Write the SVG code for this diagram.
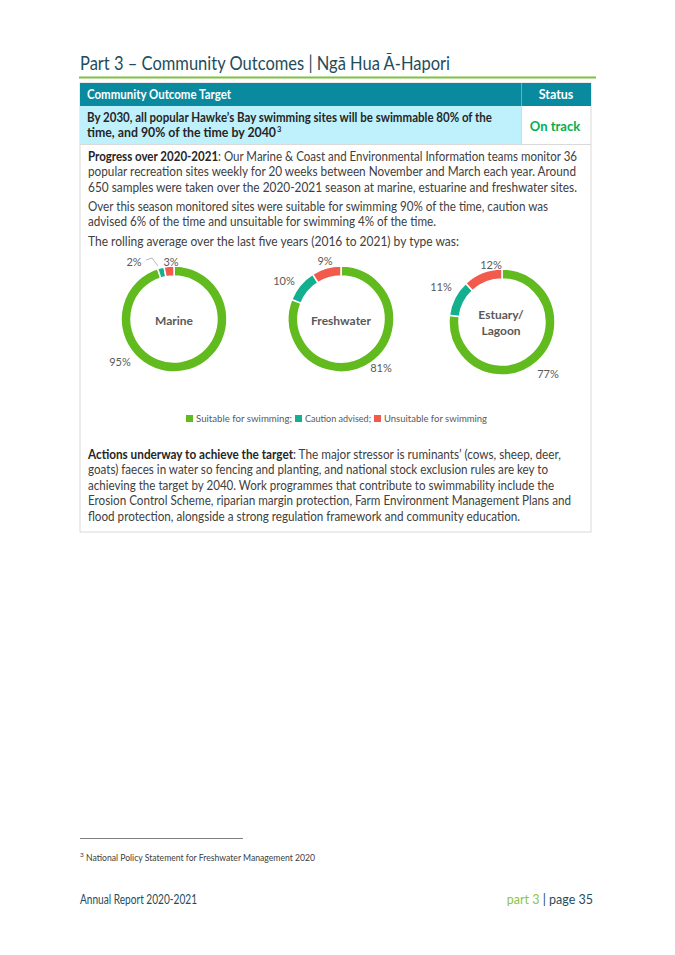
<svg xmlns="http://www.w3.org/2000/svg" width="675" height="955" viewBox="0 0 675 955">
<style>
  text { font-family: Lato, "Open Sans", "Liberation Sans", sans-serif; }
  .body { font-size: 13px; fill: #404040; }
  .b { font-weight: bold; fill: #262626; }
  .pct { font-size: 11px; fill: #595959; text-anchor: middle; }
  .ctr { font-size: 12px; font-weight: bold; fill: #595959; text-anchor: middle; }
  .leg { font-size: 10px; fill: #595959; }
  .g { fill: #62BB1E; stroke: #fff; stroke-width: 1.5; }
  .t { fill: #12B08E; stroke: #fff; stroke-width: 1.5; }
  .r { fill: #F25A4B; stroke: #fff; stroke-width: 1.5; }
</style>
<rect width="675" height="955" fill="#ffffff"/>

<g id="title">
  <text x="80" y="70" font-size="19" fill="#1E4D5B" textLength="370" lengthAdjust="spacingAndGlyphs">Part 3 – Community Outcomes | Ngā Hua Ā-Hapori</text>
  <line x1="79" y1="77.5" x2="596" y2="77.5" stroke="#7DC242" stroke-width="2"/>
</g>

<g id="table">
  <rect x="80" y="83" width="511" height="449" fill="#ffffff" stroke="#D9D9D9" stroke-width="1"/>
  <rect x="80" y="83" width="511" height="23" fill="#0A8A9F"/>
  <line x1="521.5" y1="83" x2="521.5" y2="106" stroke="#5FB5C4" stroke-width="1"/>
  <rect x="80" y="106" width="441" height="38" fill="#BFF1FC"/>
  <line x1="521.5" y1="106" x2="521.5" y2="144" stroke="#D9D9D9" stroke-width="1"/>
  <line x1="80" y1="144.5" x2="591" y2="144.5" stroke="#D9D9D9" stroke-width="1"/>
  <text x="87" y="99" font-size="12.5" font-weight="bold" fill="#ffffff" textLength="144" lengthAdjust="spacingAndGlyphs">Community Outcome Target</text>
  <text x="556" y="99" font-size="12.5" font-weight="bold" fill="#ffffff" text-anchor="middle">Status</text>
  <text x="87" y="121.5" font-size="12.5" font-weight="bold" fill="#262626" textLength="405" lengthAdjust="spacingAndGlyphs">By 2030, all popular Hawke’s Bay swimming sites will be swimmable 80% of the</text>
  <text x="87" y="137" font-size="12.5" font-weight="bold" fill="#262626" textLength="189" lengthAdjust="spacingAndGlyphs">time, and 90% of the time by 2040</text>
  <text x="277" y="131.5" font-size="7.5" font-weight="bold" fill="#262626">3</text>
  <text x="555" y="130.5" font-size="13" font-weight="bold" fill="#00B050" text-anchor="middle">On track</text>
</g>

<g id="progress">
  <text class="body" x="88" y="160.5" textLength="489" lengthAdjust="spacingAndGlyphs"><tspan class="b">Progress over 2020-2021</tspan>: Our Marine &amp; Coast and Environmental Information teams monitor 36</text>
  <text class="body" x="88" y="176" textLength="488" lengthAdjust="spacingAndGlyphs">popular recreation sites weekly for 20 weeks between November and March each year. Around</text>
  <text class="body" x="88" y="191.5" textLength="489" lengthAdjust="spacingAndGlyphs">650 samples were taken over the 2020-2021 season at marine, estuarine and freshwater sites.</text>
  <text class="body" x="88" y="210.5" textLength="460" lengthAdjust="spacingAndGlyphs">Over this season monitored sites were suitable for swimming 90% of the time, caution was</text>
  <text class="body" x="88" y="226" textLength="348" lengthAdjust="spacingAndGlyphs">advised 6% of the time and unsuitable for swimming 4% of the time.</text>
  <text class="body" x="88" y="245.5" textLength="371" lengthAdjust="spacingAndGlyphs">The rolling average over the last five years (2016 to 2021) by type was:</text>
</g>

<g id="marine">
  <path class="g" d="M174 266 A53 53 0 1 1 157.622 268.594 L160.712 278.104 A43 43 0 1 0 174 276 Z"/>
  <path class="t" d="M157.622 268.594 A53 53 0 0 1 164.069 266.939 L165.943 276.762 A43 43 0 0 0 160.712 278.104 Z"/>
  <path class="r" d="M164.069 266.939 A53 53 0 0 1 174 266 L174 276 A43 43 0 0 0 165.943 276.762 Z"/>
  <text class="ctr" x="174" y="325">Marine</text>
  <text class="pct" x="134" y="266">2%</text>
  <text class="pct" x="171" y="266">3%</text>
  <text class="pct" x="120" y="366">95%</text>
  <path d="M146 260 L152 258 L158 266" fill="none" stroke="#A6A6A6" stroke-width="0.8"/>
</g>

<g id="freshwater">
  <path class="g" d="M341 266 A53 53 0 1 1 291.722 299.490 L301.019 303.171 A43 43 0 1 0 341 276 Z"/>
  <path class="t" d="M291.722 299.490 A53 53 0 0 1 312.601 274.251 L317.959 282.694 A43 43 0 0 0 301.019 303.171 Z"/>
  <path class="r" d="M312.601 274.251 A53 53 0 0 1 341 266 L341 276 A43 43 0 0 0 317.959 282.694 Z"/>
  <text class="ctr" x="341" y="325">Freshwater</text>
  <text class="pct" x="284" y="285">10%</text>
  <text class="pct" x="325" y="265">9%</text>
  <text class="pct" x="381" y="372">81%</text>
</g>

<g id="estuary">
  <path class="g" d="M502 269 A53 53 0 1 1 449.418 315.358 L459.339 316.611 A43 43 0 1 0 502 279 Z"/>
  <path class="t" d="M449.418 315.358 A53 53 0 0 1 465.719 283.365 L472.564 290.654 A43 43 0 0 0 459.339 316.611 Z"/>
  <path class="r" d="M465.719 283.365 A53 53 0 0 1 502 269 L502 279 A43 43 0 0 0 472.564 290.654 Z"/>
  <text class="ctr" x="501" y="319">Estuary/</text>
  <text class="ctr" x="501" y="335">Lagoon</text>
  <text class="pct" x="491" y="269">12%</text>
  <text class="pct" x="441" y="291">11%</text>
  <text class="pct" x="548" y="378">77%</text>
</g>

<g id="legend">
  <rect x="186" y="415" width="7" height="7" fill="#62BB1E"/>
  <text class="leg" x="196" y="422" textLength="96" lengthAdjust="spacingAndGlyphs">Suitable for swimming;</text>
  <rect x="295" y="415" width="7" height="7" fill="#12B08E"/>
  <text class="leg" x="305" y="422" textLength="66" lengthAdjust="spacingAndGlyphs">Caution advised;</text>
  <rect x="374" y="415" width="7" height="7" fill="#F25A4B"/>
  <text class="leg" x="384" y="422" textLength="103" lengthAdjust="spacingAndGlyphs">Unsuitable for swimming</text>
</g>

<g id="actions">
  <text class="body" x="88" y="458.5" textLength="473" lengthAdjust="spacingAndGlyphs"><tspan class="b">Actions underway to achieve the target</tspan>: The major stressor is ruminants’ (cows, sheep, deer,</text>
  <text class="body" x="88" y="474" textLength="460" lengthAdjust="spacingAndGlyphs">goats) faeces in water so fencing and planting, and national stock exclusion rules are key to</text>
  <text class="body" x="88" y="489.5" textLength="466" lengthAdjust="spacingAndGlyphs">achieving the target by 2040. Work programmes that contribute to swimmability include the</text>
  <text class="body" x="88" y="505" textLength="483" lengthAdjust="spacingAndGlyphs">Erosion Control Scheme, riparian margin protection, Farm Environment Management Plans and</text>
  <text class="body" x="88" y="520.5" textLength="432" lengthAdjust="spacingAndGlyphs">flood protection, alongside a strong regulation framework and community education.</text>
</g>

<g id="footnote">
  <line x1="80" y1="838.5" x2="243" y2="838.5" stroke="#7F7F7F" stroke-width="1"/>
  <text x="80" y="857" font-size="6.5" fill="#404040">3</text>
  <text x="86" y="861" font-size="9" fill="#404040" textLength="229" lengthAdjust="spacingAndGlyphs">National Policy Statement for Freshwater Management 2020</text>
</g>

<g id="footer">
  <text x="80" y="904" font-size="12.5" fill="#1E4D5B" textLength="117" lengthAdjust="spacingAndGlyphs">Annual Report 2020-2021</text>
  <text x="593" y="904" font-size="12.5" fill="#1E4D5B" text-anchor="end"><tspan fill="#8DC63F">part 3</tspan> | page 35</text>
</g>
</svg>
